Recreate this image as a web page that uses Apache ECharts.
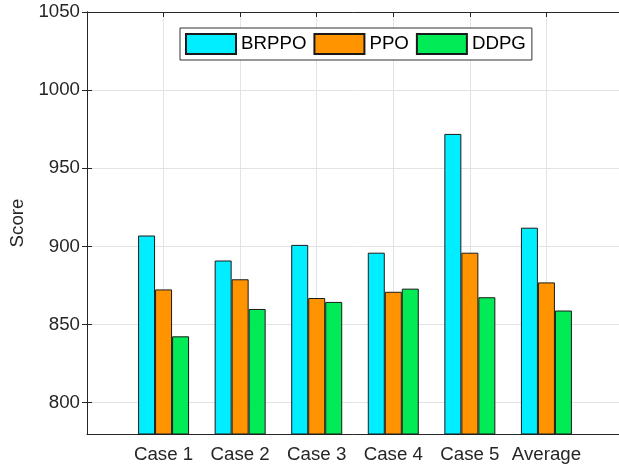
<!DOCTYPE html>
<html>
<head>
<meta charset="utf-8">
<script src="https://cdn.jsdelivr.net/npm/echarts@6/dist/echarts.min.js"></script>
<style>
html,body{margin:0;padding:0;background:#fff;}
#chart{width:619px;height:466px;}
</style>
</head>
<body>
<div id="chart"></div>
<script>
const categories = ['Case 1', 'Case 2', 'Case 3', 'Case 4', 'Case 5', 'Average'];
const seriesNames = ['BRPPO', 'PPO', 'DDPG'];
const brppo = [907, 891, 901, 896, 972, 912];
const ppo = [872.5, 879, 867, 871, 896, 877];
const ddpg = [842.5, 860, 864.5, 873, 867.5, 859];
const yTicks = [800, 850, 900, 950, 1000, 1050];
const colors = ['#00EEFF', '#FF9400', '#00EB55'];

const FONT = 'Liberation Sans, Arial, sans-serif';
const FS = 18.7;
const AX = '#262626';

const chart = echarts.init(document.getElementById('chart'), null, {renderer: 'canvas'});

function toPoints(arr) {
  return arr.map((v, i) => [i + 1, v]);
}
const allValues = [brppo, ppo, ddpg];

const xAxisBase = {
  type: 'value', min: 0, max: 7, interval: 1,
  axisLine: {show: true, lineStyle: {color: AX, width: 1}},
  axisTick: {show: true, inside: true, length: 5, lineStyle: {color: AX}},
};
const yAxisBase = {
  type: 'value', min: 780, max: 1050,
  axisLine: {show: true, lineStyle: {color: AX, width: 1}},
  axisTick: {show: true, inside: true, length: 5, lineStyle: {color: AX}, customValues: yTicks},
};

const option = {
  backgroundColor: '#fff',
  animation: false,
  grid: {left: 87, top: 12, width: 536, height: 422, containLabel: false, outerBoundsMode: 'none'},
  legend: {
    data: seriesNames,
    left: 180, top: 28,
    orient: 'horizontal',
    itemWidth: 50, itemHeight: 20, itemGap: 7,
    padding: [5, 6, 5, 5],
    borderColor: '#333', borderWidth: 1, backgroundColor: '#fff',
    textStyle: {fontFamily: FONT, fontSize: FS, color: '#000'},
    icon: 'rect'
  },
  xAxis: [
    Object.assign({}, xAxisBase, {
      position: 'bottom',
      axisLabel: {
        show: true, margin: 11, fontFamily: FONT, fontSize: FS, color: AX,
        formatter: v => (v >= 1 && v <= categories.length) ? categories[v - 1] : ''
      },
      splitLine: {show: true, lineStyle: {color: '#e3e3e3', width: 1}}
    }),
    Object.assign({}, xAxisBase, {
      position: 'top',
      axisLabel: {show: false},
      splitLine: {show: false}
    })
  ],
  yAxis: [
    Object.assign({}, yAxisBase, {
      position: 'left',
      name: 'Score', nameLocation: 'middle', nameGap: 56,
      nameTextStyle: {fontFamily: FONT, fontSize: FS, color: AX},
      axisLabel: {show: true, margin: 7, fontFamily: FONT, fontSize: FS, color: AX, customValues: yTicks,
        formatter: v => String(v)},
      splitLine: {show: true, lineStyle: {color: '#e3e3e3', width: 1}}
    }),
    Object.assign({}, yAxisBase, {
      position: 'right',
      axisLabel: {show: false, customValues: yTicks},
      splitLine: {show: false}
    })
  ],
  series: seriesNames.map((name, k) => ({
    name: name,
    type: 'bar',
    xAxisIndex: 0, yAxisIndex: 0,
    barWidth: 17,
    barGap: '0%',
    data: toPoints(allValues[k]),
    itemStyle: {color: colors[k], borderColor: '#1a1a1a', borderWidth: 1},
    emphasis: {disabled: true}
  }))
};
chart.setOption(option);
</script>
</body>
</html>
